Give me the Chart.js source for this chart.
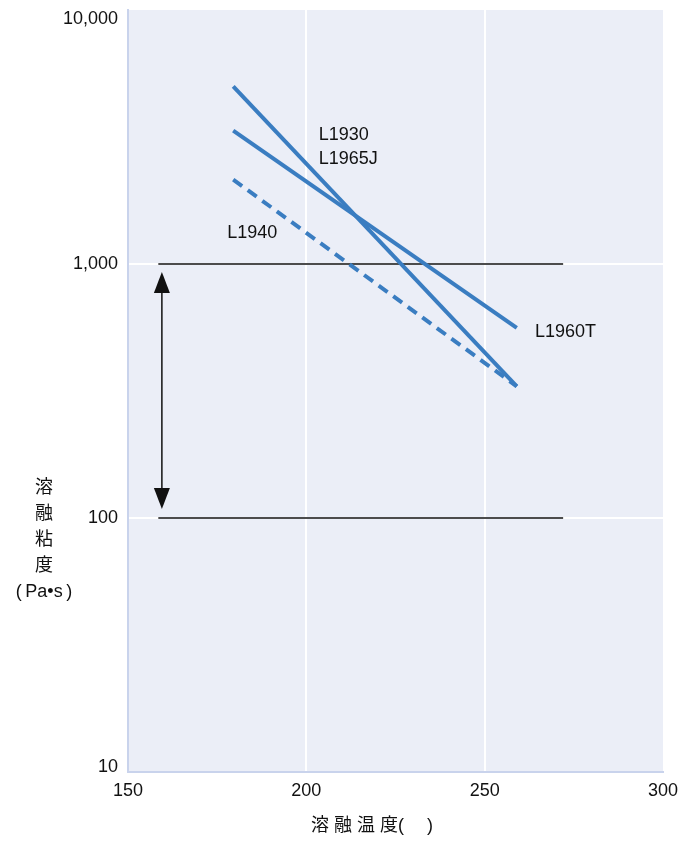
<!DOCTYPE html>
<html>
<head>
<meta charset="utf-8">
<script src="https://cdn.jsdelivr.net/npm/chart.js@4"></script>
<style>
  body { margin: 0; background: #fff; }
</style>
</head>
<body>
<canvas id="myChart" width="679" height="841"></canvas>
<script>
// melt temperature (°C) at the ends of each line
const temps = [179.5, 259];
// melt viscosity (Pa·s)
const l1930 = [5000, 330];
const l1960t = [3350, 560];
const l1940 = [2150, 330];

const xTicks = [150, 200, 250, 300];
const yTicks = [10, 100, 1000, 10000];

// black reference lines and the arrow between them
const refTemps = [158.5, 272];
const refViscosity = [1000, 100];
const arrowTemp = 159.5;

const blue = '#3a7dc1';
const font = '"Liberation Sans", Arial, "Noto Sans CJK JP", sans-serif';

const pts = (ys) => temps.map((x, i) => ({ x: x, y: ys[i] }));
const refLine = (v) => refTemps.map(x => ({ x: x, y: v }));

const decor = {
  id: 'decor',
  beforeDraw(chart) {
    const a = chart.chartArea;
    const c = chart.ctx;
    c.save();
    c.fillStyle = '#ebeef7';
    c.fillRect(a.left, a.top, a.right - a.left, a.bottom - a.top);
    c.restore();
  },
  afterDatasetsDraw(chart) {
    const c = chart.ctx;
    const xs = chart.scales.x, ys = chart.scales.y;
    // double arrow
    const ax = xs.getPixelForValue(arrowTemp);
    const top = ys.getPixelForValue(refViscosity[0]) + 8;
    const bot = ys.getPixelForValue(refViscosity[1]) - 9;
    c.save();
    c.strokeStyle = '#111';
    c.fillStyle = '#111';
    c.lineWidth = 1.5;
    c.beginPath();
    c.moveTo(ax, top + 10);
    c.lineTo(ax, bot - 10);
    c.stroke();
    c.beginPath();
    c.moveTo(ax, top);
    c.lineTo(ax - 8, top + 21);
    c.lineTo(ax + 8, top + 21);
    c.closePath();
    c.fill();
    c.beginPath();
    c.moveTo(ax, bot);
    c.lineTo(ax - 8, bot - 21);
    c.lineTo(ax + 8, bot - 21);
    c.closePath();
    c.fill();

    // series labels
    c.font = '18px ' + font;
    c.textBaseline = 'middle';
    c.textAlign = 'left';
    const lbl = (t, x, y) => c.fillText(t, xs.getPixelForValue(x), ys.getPixelForValue(y));
    lbl('L1930', 203.5, 3220);
    lbl('L1965J', 203.5, 2590);
    lbl('L1940', 177.8, 1324);
    lbl('L1960T', 264.1, 540);
    c.restore();
  },
  afterDraw(chart) {
    const c = chart.ctx;
    c.save();
    c.fillStyle = '#111';
    c.font = '18px ' + font;
    c.textAlign = 'center';
    c.textBaseline = 'middle';
    const yTitle = ['溶', '融', '粘', '度', '(\u2009Pa•s\u2009)'];
    yTitle.forEach((t, i) => c.fillText(t, 44, 488 + i * 26));
    c.fillText('溶 融 温 度(　 )', 372, 826);
    c.restore();
  }
};

new Chart(document.getElementById('myChart'), {
  type: 'scatter',
  data: {
    datasets: [
      {
        label: 'L1930 / L1965J',
        data: pts(l1930),
        showLine: true,
        borderColor: blue,
        borderWidth: 4,
        pointRadius: 0
      },
      {
        label: 'L1960T',
        data: pts(l1960t),
        showLine: true,
        borderColor: blue,
        borderWidth: 4,
        pointRadius: 0
      },
      {
        label: 'L1940',
        data: pts(l1940),
        showLine: true,
        borderColor: blue,
        borderWidth: 4,
        borderDash: [11, 7],
        pointRadius: 0
      },
      {
        label: 'ref 1000',
        data: refLine(refViscosity[0]),
        showLine: true,
        borderColor: '#111',
        borderWidth: 1.3,
        pointRadius: 0
      },
      {
        label: 'ref 100',
        data: refLine(refViscosity[1]),
        showLine: true,
        borderColor: '#111',
        borderWidth: 1.3,
        pointRadius: 0
      }
    ]
  },
  options: {
    responsive: false,
    animation: false,
    layout: {
      padding: { left: 0, right: 16, top: 10, bottom: 0 }
    },
    plugins: {
      legend: { display: false },
      tooltip: { enabled: false }
    },
    scales: {
      x: {
        type: 'linear',
        min: 150,
        max: 300,
        afterBuildTicks: (s) => { s.ticks = xTicks.map(v => ({ value: v })); },
        afterFit: (s) => {
          s.height = 69;
          s.paddingRight = 0;
          s.paddingLeft = 0;
        },
        ticks: {
          color: '#111',
          padding: 8,
          font: { family: font, size: 18 },
          maxRotation: 0
        },
        grid: {
          drawTicks: false,
          lineWidth: 2,
          color: (ctx) => (ctx.tick && (ctx.tick.value === 200 || ctx.tick.value === 250)) ? '#ffffff' : 'rgba(0,0,0,0)'
        },
        border: { display: true, color: '#c9d3ec', width: 2 }
      },
      y: {
        type: 'logarithmic',
        min: 10,
        max: 10000,
        afterBuildTicks: (s) => { s.ticks = yTicks.map(v => ({ value: v })); },
        afterFit: (s) => {
          s.width = 128;
          s.paddingTop = 0;
          s.paddingBottom = 0;
        },
        ticks: {
          color: '#111',
          padding: 10,
          font: (ctx) => {
            const v = ctx.tick ? ctx.tick.value : 0;
            if (v === 10000) return { family: font, size: 18, lineHeight: 1.0 };
            if (v === 10) return { family: font, size: 18, lineHeight: 0.6 };
            return { family: font, size: 18 };
          },
          callback: (v) => {
            const s = Number(v).toLocaleString('en-US');
            // keep the end labels inside the plot height
            if (v === 10000) return ['', s];
            if (v === 10) return [s, ''];
            return s;
          }
        },
        grid: {
          drawTicks: false,
          lineWidth: 2,
          color: (ctx) => (ctx.tick && (ctx.tick.value === 100 || ctx.tick.value === 1000)) ? '#ffffff' : 'rgba(0,0,0,0)'
        },
        border: { display: true, color: '#c9d3ec', width: 2 }
      }
    }
  },
  plugins: [decor]
});
</script>
</body>
</html>
